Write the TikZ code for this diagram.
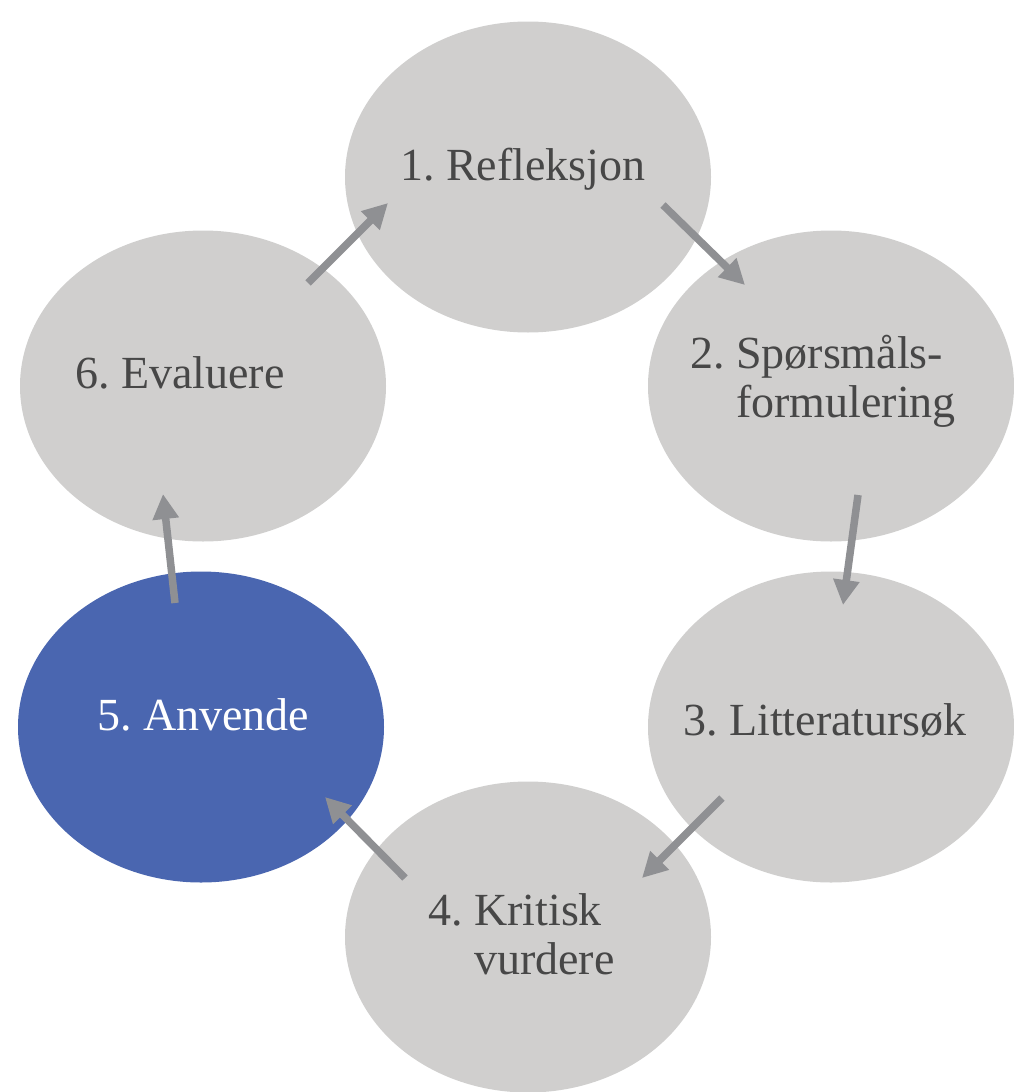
\documentclass[tikz,border=0pt]{standalone}
\usepackage{fontspec}
\setmainfont{Liberation Serif}
\usetikzlibrary{arrows.meta,shapes.geometric}
\definecolor{cyclegray}{HTML}{D0CFCE}
\definecolor{cycleblue}{HTML}{4A66B0}
\definecolor{arrowgray}{HTML}{8F9093}
\definecolor{textgray}{HTML}{474747}
\begin{document}
\frenchspacing
\begin{tikzpicture}[x=1pt,y=-1pt,
  stage/.style={ellipse, fill=cyclegray, draw=none, minimum width=366pt, minimum height=311pt, inner sep=0pt},
  hot/.style={stage, fill=cycleblue},
  lbl/.style={anchor=base west, inner sep=0pt, text=textgray, font=\fontsize{46}{49}\selectfont},
  hotlbl/.style={lbl, text=white},
  flow/.style={draw=arrowgray, line width=7.5pt, -{Triangle[length=25pt,width=25pt]}}]
\useasboundingbox (0,0) rectangle (1014,1092);
\node[stage] (e1) at (528,177) {};
\node[stage] (e2) at (831,386) {};
\node[stage] (e3) at (831,727) {};
\node[stage] (e4) at (528,937) {};
\node[hot]   (e5) at (201,727) {};
\node[stage] (e6) at (203,386) {};
\node[lbl] (t1) at (400,180) {1. Refleksjon};
\node[lbl] (t2) at (690,368) {2.~\begin{tabular}[t]{@{}l@{}}Spørsmåls-\\formulering\end{tabular}};
\node[lbl] (t3) at (683,735) {3. Litteratursøk};
\node[lbl] (t4) at (428,925) {4.~\begin{tabular}[t]{@{}l@{}}Kritisk\\vurdere\end{tabular}};
\node[hotlbl] (t5) at (97,730) {5. Anvende};
\node[lbl] (t6) at (75,388) {6. Evaluere};
\coordinate (a1s) at (663,205); \coordinate (a1e) at (745,285);
\coordinate (a2s) at (858,495); \coordinate (a2e) at (843,605);
\coordinate (a3s) at (722,798); \coordinate (a3e) at (642,878);
\coordinate (a4s) at (405,878); \coordinate (a4e) at (325,797);
\coordinate (a5s) at (175,603); \coordinate (a5e) at (163,494);
\coordinate (a6s) at (308,283); \coordinate (a6e) at (388,203);
\draw[flow] (a1s) -- (a1e);
\draw[flow] (a2s) -- (a2e);
\draw[flow] (a3s) -- (a3e);
\draw[flow] (a4s) -- (a4e);
\draw[flow] (a5s) -- (a5e);
\draw[flow] (a6s) -- (a6e);
\end{tikzpicture}
\end{document}
